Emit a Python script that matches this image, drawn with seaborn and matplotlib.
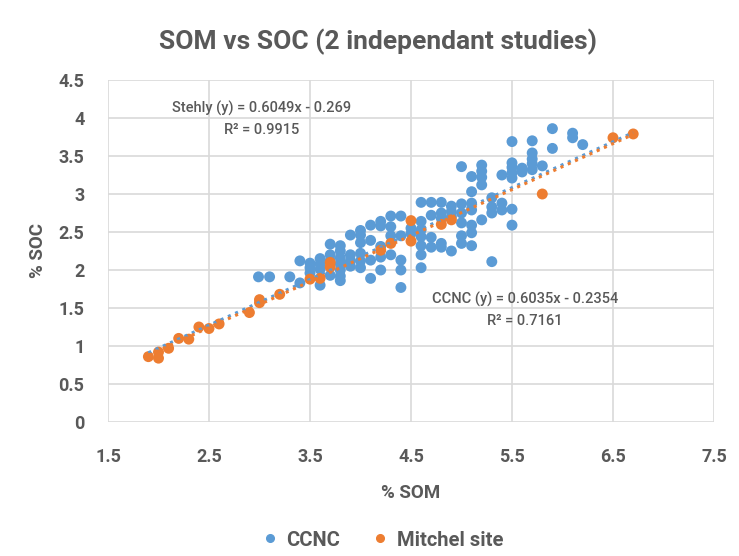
import numpy as np
import pandas as pd
import matplotlib
matplotlib.use("Agg")
import matplotlib.pyplot as plt
import seaborn as sns

# ---------------- data ----------------
ccnc_som = [2.99, 3.10, 3.30,
            3.40, 3.40,
            3.50, 3.50, 3.50,
            3.60, 3.60, 3.60, 3.60,
            3.70, 3.70, 3.70, 3.70,
            3.80, 3.80, 3.80, 3.80, 3.80, 3.80, 3.80,
            3.90, 3.90, 3.90, 3.90,
            4.00, 4.00, 4.00, 4.00, 4.00, 4.00,
            4.10, 4.10, 4.10, 4.10,
            4.20, 4.20, 4.20, 4.20, 4.20,
            4.30, 4.30, 4.30, 4.30,
            4.40, 4.40, 4.40, 4.40, 4.40,
            4.50, 4.50,
            4.60, 4.60, 4.60, 4.60, 4.60, 4.60, 4.60,
            4.70, 4.70, 4.70, 4.70,
            4.80, 4.80, 4.80, 4.80, 4.80,
            4.90, 4.90, 4.90, 4.90,
            5.00, 5.00, 5.00, 5.00, 5.00, 5.00,
            5.10, 5.10, 5.10, 5.10, 5.10, 5.10, 5.10,
            5.20, 5.20, 5.20, 5.20, 5.20,
            5.30, 5.30, 5.30, 5.30,
            5.40, 5.40, 5.40,
            5.50, 5.50, 5.50, 5.50, 5.50, 5.50, 5.50,
            5.60, 5.60,
            5.70, 5.70, 5.70, 5.70, 5.70,
            5.80,
            5.90, 5.90,
            6.10, 6.10,
            6.20]
ccnc_soc = [1.91, 1.91, 1.91,
            2.12, 1.83,
            2.09, 2.03, 1.96,
            2.15, 2.08, 2.01, 1.80,
            2.34, 2.20, 2.12, 1.93,
            2.32, 2.25, 2.16, 2.08, 2.00, 1.92, 1.86,
            2.46, 2.20, 2.12, 2.05,
            2.52, 2.46, 2.36, 2.22, 2.12, 2.03,
            2.59, 2.39, 2.13, 1.89,
            2.64, 2.58, 2.31, 2.17, 2.00,
            2.71, 2.57, 2.45, 2.20,
            2.71, 2.45, 2.13, 2.00, 1.77,
            2.55, 2.48,
            2.89, 2.64, 2.53, 2.44, 2.32, 2.20, 2.03,
            2.89, 2.72, 2.43, 2.30,
            2.89, 2.75, 2.68, 2.35, 2.30,
            2.84, 2.77, 2.70, 2.25,
            3.36, 2.87, 2.75, 2.62, 2.45, 2.35,
            3.23, 3.03, 2.88, 2.79, 2.59, 2.49, 2.32,
            3.38, 3.30, 3.22, 3.12, 2.66,
            2.95, 2.83, 2.75, 2.11,
            3.25, 2.88, 2.79,
            3.69, 3.41, 3.35, 3.28, 3.21, 2.80, 2.59,
            3.34, 3.29,
            3.70, 3.54, 3.46, 3.40, 3.32,
            3.37,
            3.86, 3.60,
            3.80, 3.74,
            3.65]

mitchel_som = [1.90, 2.00, 2.00, 2.10, 2.20, 2.30, 2.40, 2.50, 2.60, 2.90,
               3.00, 3.00, 3.20, 3.50, 3.60, 3.70, 3.70, 4.20, 4.30,
               4.50, 4.50, 4.80, 4.90, 5.80, 6.50, 6.70]
mitchel_soc = [0.86, 0.92, 0.84, 0.97, 1.10, 1.09, 1.25, 1.23, 1.29, 1.44,
               1.61, 1.57, 1.68, 1.88, 1.89, 2.10, 2.04, 2.26, 2.35,
               2.65, 2.38, 2.60, 2.66, 3.00, 3.74, 3.79]

series_names = ["CCNC", "Mitchel site"]
series_colors = ["#5B9BD5", "#ED7D31"]

# trendlines as reported in the chart (slope, intercept, x range)
trend_slope = [0.6035, 0.6049]
trend_intercept = [-0.2354, -0.269]
trend_xmin = [1.9, 1.9]
trend_xmax = [6.7, 6.7]

eq_labels = ["CCNC (y) = 0.6035x - 0.2354\nR² = 0.7161",
             "Stehly (y) = 0.6049x - 0.269\nR² = 0.9915"]

x_ticks = [1.5, 2.5, 3.5, 4.5, 5.5, 6.5, 7.5]
x_tick_labels = ["1.5", "2.5", "3.5", "4.5", "5.5", "6.5", "7.5"]
y_ticks = [0, 0.5, 1, 1.5, 2, 2.5, 3, 3.5, 4, 4.5]
y_tick_labels = ["0", "0.5", "1", "1.5", "2", "2.5", "3", "3.5", "4", "4.5"]

# ---------------- figure ----------------
sns.set_theme(style="white")
plt.rcParams["font.family"] = ["Roboto", "DejaVu Sans"]
plt.rcParams["font.weight"] = "bold"
txt = "#595959"

df = pd.concat([
    pd.DataFrame({"SOM": ccnc_som, "SOC": ccnc_soc, "Series": series_names[0]}),
    pd.DataFrame({"SOM": mitchel_som, "SOC": mitchel_soc, "Series": series_names[1]}),
], ignore_index=True)

fig = plt.figure(figsize=(7.39, 5.56), dpi=100)
fig.patch.set_facecolor("white")
ax = fig.add_axes([108 / 739, 1 - 422 / 556, (714 - 108) / 739, (422 - 80) / 556])

sns.scatterplot(data=df, x="SOM", y="SOC", hue="Series",
                palette=dict(zip(series_names, series_colors)),
                s=62, linewidth=0, alpha=1, ax=ax, legend=False, zorder=3)

# trendlines
for i in range(2):
    xs = np.array([trend_xmin[i], trend_xmax[i]])
    ys = trend_slope[i] * xs + trend_intercept[i]
    sns.lineplot(x=xs, y=ys, ax=ax, color=series_colors[i], linewidth=2.2,
                 linestyle=(0, (1, 1.6)), zorder=4 + i)

ax.set_xlim(1.5, 7.5)
ax.set_ylim(0, 4.5)
ax.tick_params(axis="x", length=0, pad=19, labelsize=13, labelcolor=txt)
ax.tick_params(axis="y", length=0, pad=17, labelsize=13, labelcolor=txt)
ax.set_xticks(x_ticks, labels=x_tick_labels)
ax.set_yticks(y_ticks, labels=y_tick_labels)
ax.grid(True, color="#D9D9D9", linewidth=1.2)
ax.set_axisbelow(True)
for s in ax.spines.values():
    s.set_visible(False)

ax.set_xlabel("% SOM", fontsize=13.5, fontweight="bold", color=txt, labelpad=13)
ax.set_ylabel("% SOC", fontsize=13.5, fontweight="bold", color=txt, labelpad=8)

fig.text(0.512, 1 - 42 / 556, "SOM vs SOC (2 independant studies)", ha="center",
         va="center", fontsize=19, fontweight="bold", color=txt)

# equations
fig.text(262 / 739, 1 - 119 / 556, eq_labels[1], ha="center", va="center",
         fontsize=10.5, color=txt, linespacing=1.6, fontweight="medium")
fig.text(525 / 739, 1 - 310 / 556, eq_labels[0], ha="center", va="center",
         fontsize=10.5, color=txt, linespacing=1.6, fontweight="medium")

# legend
handles = [plt.Line2D([], [], marker="o", linestyle="", color=c, markersize=5.5)
           for c in series_colors]
fig.legend(handles, series_names, loc="center", bbox_to_anchor=(0.515, 1 - 540 / 556),
           ncol=2, frameon=False, handletextpad=0.2, columnspacing=1.4,
           handlelength=1.2, prop={"size": 14.5, "weight": "bold"}, labelcolor=txt)

fig.savefig("out.png", dpi=100, facecolor="white")
